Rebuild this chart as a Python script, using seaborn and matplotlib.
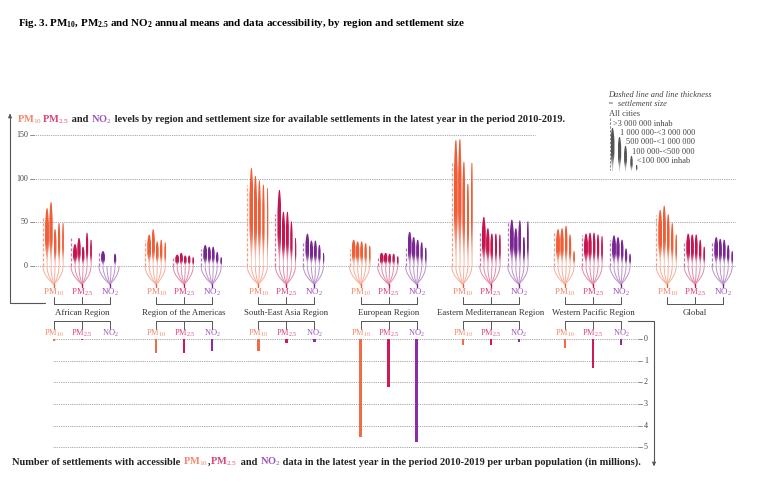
import numpy as np
import pandas as pd
import matplotlib
matplotlib.use("Agg")
import matplotlib.pyplot as plt
from matplotlib.patches import Polygon
from matplotlib.colors import to_rgb
import seaborn as sns

nan = np.nan

regions = ["African Region", "Region of the Americas", "South-East Asia Region",
           "European Region", "Eastern Mediterranean Region", "Western Pacific Region",
           "Global"]
pollutants = ["PM10", "PM2.5", "NO2"]
sizes = ["All cities", ">3 000 000 inhab", "1 000 000-<3 000 000",
         "500 000-<1 000 000", "100 000-<500 000", "<100 000 inhab"]

# annual means (ug/m3): all cities (dashed) then the 5 settlement sizes
pm10 = [
    [57, 66, 73, 42, 49, 49],
    [30, 36, 42, 28, 30, 27],
    [93, 112, 103, 98, 93, 89],
    [19, 30, 28, 28, 26, 23],
    [120, 144, 145, 119, 94, 118],
    [39, 42, 43, 46, 36, 17],
    [58, 64, 69, 59, 49, 36],
]
pm25 = [
    [32, 25, 32, 22, 38, 30],
    [12, 13, 15, 12, 12, 10],
    [59, 87, 62, 62, 51, 32],
    [11, 15, 15, 14, 14, 11],
    [39, 56, 43, 37, 37, 36],
    [36, 37, 38, 38, 36, 34],
    [26, 37, 36, 36, 30, 22],
]
no2 = [
    [16, 17, nan, nan, 14, nan],
    [20, 24, 22, 22, 16, 10],
    [28, 37, 29, 29, 24, 15],
    [21, 39, 33, 30, 27, 21],
    [52, 53, 43, 52, 33, 51],
    [30, 35, 33, 30, 20, 14],
    [28, 33, 31, 30, 24, 17],
]
# settlements with accessible data per urban population (millions)
access_pm10 = [0.08, 0.63, 0.54, 4.53, 0.28, 0.43, nan]
access_pm25 = [0.05, 0.63, 0.17, 2.24, 0.28, 1.35, nan]
access_no2 = [0.02, 0.54, 0.12, 4.75, 0.15, 0.28, nan]

y_ticks_top = [0, 50, 100, 150]
y_ticks_bottom = [0, 1, 2, 3, 4, 5]

LINE_COL = {"PM10": "#EF5E37", "PM2.5": "#C5154F", "NO2": "#7A2592"}
LABEL_COL = {"PM10": "#F5876A", "PM2.5": "#DE457A", "NO2": "#9E52BC"}
BAR_COL = {"PM10": "#F26B47", "PM2.5": "#CF1A52", "NO2": "#8A2DA6"}
LABEL_TXT = {"PM10": "PM$_{10}$", "PM2.5": "PM$_{2.5}$", "NO2": "NO$_{2}$"}
GREY = "#444444"

sns.set_style("white")
plt.rcParams.update({
    "font.family": ["Liberation Serif", "DejaVu Serif"],
    "mathtext.fontset": "custom",
    "mathtext.rm": "Liberation Serif",
    "mathtext.it": "Liberation Serif:italic",
    "mathtext.bf": "Liberation Serif:bold",
})

W, H = 763, 500
fig = plt.figure(figsize=(W / 100, H / 100), dpi=100)
bg = fig.add_axes([0, 0, 1, 1])
bg.axis("off")

# top axes: 0 at px 266, 0.874 px per unit
top = fig.add_axes([0, 0.4, 1, 0.4])
top.axis("off")
# bottom axes: 0 at px 339, 21.65 px per unit, pointing down
bot = fig.add_axes([0, 0.04, 1, 0.34])


def set_limits():
    bg.set_xlim(0, W)
    bg.set_ylim(H, 0)
    top.set_xlim(0, W)
    top.set_ylim((266 - 300) / 0.874, (266 - 100) / 0.874)


set_limits()


def center(i, j):
    return 54 + 102.2 * i + 28 * j


def blend(c, f):
    c = np.array(to_rgb(c))
    return tuple(c * f + (1 - f))


def spindle(ax, x, y0, y1, color, wmax, n=64):
    # tapered line with a colour gradient, x is in pixel units
    t = np.linspace(0, 1, n)
    rise = np.clip(t / 0.45, 0, 1)
    rise = rise * rise * (3 - 2 * rise)
    taper = np.clip((1 - t) / 0.28, 0, 1) ** 0.6
    hw = 0.35 + (wmax / 2 - 0.35) * rise * taper
    ys = y0 + (y1 - y0) * t
    verts = np.r_[np.c_[x - hw, ys], np.c_[x + hw, ys][::-1]]
    poly = Polygon(verts, closed=True, fc="none", ec="none")
    ax.add_patch(poly)
    rgb = np.array([blend(color, 0.3 + 0.7 * r) for r in rise])[:, None, :]
    im = ax.imshow(rgb, extent=(x - wmax / 2, x + wmax / 2, y0, y1), origin="lower",
                   aspect="auto", interpolation="bilinear", zorder=4)
    im.set_clip_path(poly)


offsets = [-11, -7, -3, 1, 5, 9]
widths = [3.9, 3.4, 2.9, 2.4, 1.8]
fan_depth = 21

# gridlines top
for v in y_ticks_top:
    y = 266 - 0.874 * v
    bg.text(28, y, str(v), ha="right", va="center", fontsize=5.8, color=GREY)
    bg.plot([30, 34], [y, y], color="#777", lw=0.6)
    top.hlines(v, 34, 535 if v == 150 else 735, color="#888", lw=0.6,
               linestyles=(0, (1, 1.2)), zorder=1)

series = {"PM10": pm10, "PM2.5": pm25, "NO2": no2}
for i, reg in enumerate(regions):
    for j, pol in enumerate(pollutants):
        xc = center(i, j)
        vals = series[pol][i]
        col = LINE_COL[pol]
        for k, off in enumerate(offsets):
            xi = xc + off
            s = np.linspace(0, 1, 30)
            top.plot(xi + (xc - xi) * s ** 2, -fan_depth * s, color=blend(col, 0.5),
                     lw=0.7, zorder=2, solid_capstyle="butt")
            v = vals[k]
            if np.isnan(v):
                continue
            if k == 0:
                top.plot([xi, xi], [0, v], color=blend(col, 0.6), lw=0.9,
                         ls=(0, (2.5, 1.5)), zorder=3)
            else:
                top.plot([xi, xi], [0, v], color=blend(col, 0.35), lw=0.5, zorder=3)
                spindle(top, xi, 0, v, col, widths[k - 1])
        top.plot([xc, xc], [-fan_depth, -fan_depth - 3], color=col, lw=1.0, zorder=2)
        bg.text(xc, 292, LABEL_TXT[pol], ha="center", va="center", fontsize=6.5,
                color=LABEL_COL[pol])
        bg.plot([xc, xc], [297, 304], color="#555", lw=0.7)
        if i < 6:
            bg.plot([xc, xc], [321, 329], color="#555", lw=0.7)
            bg.text(xc, 336, LABEL_TXT[pol], ha="center", va="baseline", fontsize=6.0,
                    color=LABEL_COL[pol])
    bg.plot([center(i, 0), center(i, 2)], [304, 304], color="#555", lw=0.7)
    bg.text(center(i, 1), 313, reg, ha="center", va="center", fontsize=6.3, color="#333")
    if i < 6:
        bg.plot([center(i, 0), center(i, 2)], [321, 321], color="#555", lw=0.7)

# bottom bars
rows = []
for i in range(len(regions)):
    for j, (pol, arr) in enumerate(zip(pollutants, [access_pm10, access_pm25, access_no2])):
        if not np.isnan(arr[i]):
            rows.append({"x": center(i, j), "count": arr[i], "pollutant": pol})
df = pd.DataFrame(rows)
sns.barplot(data=df, x="x", y="count", hue="pollutant", palette=BAR_COL,
            native_scale=True, orient="x", width=0.09, dodge=False, saturation=1,
            errorbar=None, legend=False, linewidth=0, ax=bot)
for p in bot.patches:
    cx = p.get_x() + p.get_width() / 2
    p.set_width(2.6)
    p.set_x(cx - 1.3)
bot.set_xlim(0, W)
bot.set_ylim((480 - 339) / 21.65, (310 - 339) / 21.65)
bot.axis("off")
for c in y_ticks_bottom:
    y = 339 + 21.65 * c
    bot.hlines(c, 53, 637, color="#888", lw=0.6, linestyles=(0, (1, 1.2)), zorder=0)
    bg.plot([638, 642], [y, y], color="#777", lw=0.6)
    bg.text(644, y, str(c), ha="left", va="center", fontsize=5.8, color=GREY)

# axis arrows
bg.plot([10, 10, 45], [116, 303, 303], color="#555", lw=0.8)
bg.annotate("", xy=(10, 111), xytext=(10, 118),
            arrowprops=dict(arrowstyle="-|>", color="#555", lw=0.8, mutation_scale=5))
bg.plot([628, 654, 654], [321, 321, 462], color="#555", lw=0.8)
bg.annotate("", xy=(654, 469), xytext=(654, 461),
            arrowprops=dict(arrowstyle="-|>", color="#555", lw=0.8, mutation_scale=5))


def rich(x, y, parts, **kw):
    t = bg.text(x, y, parts[0][0], color=parts[0][1], va="baseline", **kw)
    for s, c in parts[1:]:
        t = bg.annotate(s, xy=(1, y), xycoords=(t, bg.transData), color=c,
                        va="baseline", ha="left", **kw)


rich(18, 26, [("Fig. 3. PM$_\\mathbf{10}$, PM$_\\mathbf{2.5}$ and NO$_\\mathbf{2}$ annual means "
               "and data accessibility, by region and settlement size", "black")],
     fontsize=7.9, fontweight="bold")
rich(17, 122, [("PM$_{10}$", LABEL_COL["PM10"]), ("PM$_{2.5}$", LABEL_COL["PM2.5"]),
               (" and ", "#222"), ("NO$_{2}$", LABEL_COL["NO2"]),
               (" levels by region and settlement size for available settlements "
                "in the latest year in the period 2010-2019.", "#222")],
     fontsize=7.45, fontweight="bold")
rich(12, 465, [("Number of settlements with accessible ", "#222"),
               ("PM$_{10}$", LABEL_COL["PM10"]), (",", "#222"),
               ("PM$_{2.5}$", LABEL_COL["PM2.5"]), (" and ", "#222"),
               ("NO$_{2}$", LABEL_COL["NO2"]),
               (" data in the latest year in the period 2010-2019 per urban population "
                "(in millions).", "#222")],
     fontsize=7.5, fontweight="bold")

# legend
bg.text(608, 95, "Dashed line and line thickness", fontsize=6.0, style="italic",
        color=GREY, va="center")
bg.text(608, 104, "=  settlement size", fontsize=6.0, style="italic", color=GREY, va="center")
leg_x = [609, 613, 620, 626, 632, 637]
leg_y = [114, 124, 133, 142, 152, 161]
for k, (lx, ly, lab) in enumerate(zip(leg_x, leg_y, sizes)):
    bg.text(lx, ly, lab, fontsize=6.0, color=GREY, va="center")
    if k == 0:
        bg.plot([lx + 1, lx + 1], [ly + 4, 170], color="#888", lw=0.7, ls=(0, (2.5, 1.5)))
    else:
        spindle(bg, lx - 0.5, 171, ly + 4, "#555", widths[k - 1])

set_limits()
fig.savefig("out.png", dpi=100)
